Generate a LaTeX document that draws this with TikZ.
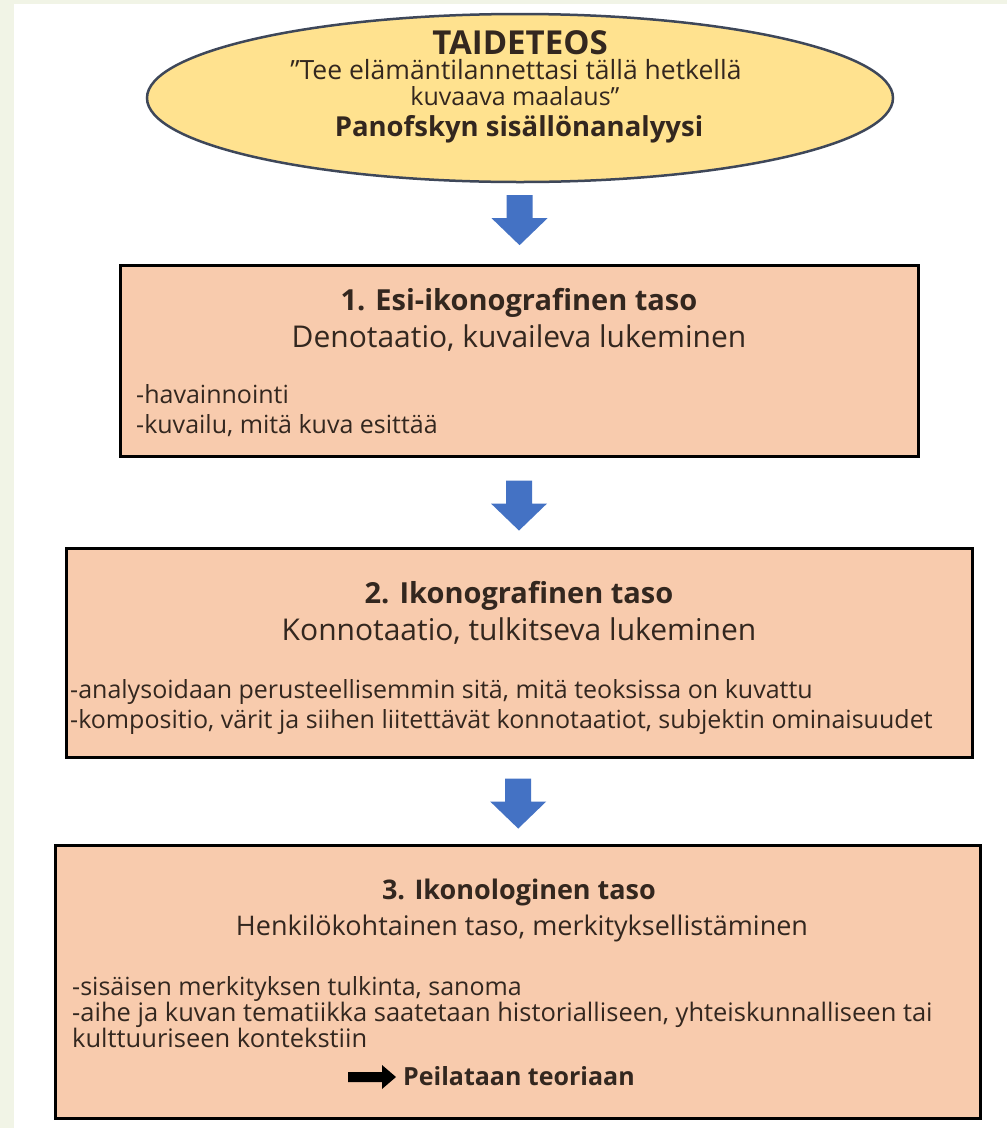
\documentclass[tikz,border=0pt]{standalone}
\usepackage{fontspec}
\setmainfont{Open Sans}
\usetikzlibrary{shapes.geometric,calc}
\definecolor{outerbg}{HTML}{F1F4E6}
\definecolor{ellfill}{HTML}{FFE28F}
\definecolor{elldraw}{HTML}{3E4759}
\definecolor{boxfill}{HTML}{F8CBAD}
\definecolor{arrowblue}{HTML}{4472C4}
\definecolor{txt}{HTML}{33271F}
\tikzset{
  levelbox/.style={draw=black, line width=3pt, fill=boxfill, inner sep=0pt},
  ttl/.style={anchor=base, inner sep=0pt, text=txt, font=\bfseries\fontsize{29}{34}\selectfont},
  sub/.style={anchor=base, inner sep=0pt, text=txt, font=\fontsize{30}{34}\selectfont},
  bodytext/.style={anchor=base west, inner sep=0pt, text=txt, font=\fontsize{25}{30}\selectfont},
  elltext/.style={anchor=base, inner sep=0pt, text=txt, font=\fontsize{26.5}{30}\selectfont},
  blockdown/.pic={\fill[arrowblue] (-13,-25) -- (13,-25) -- (13,-2) -- (28,-2) -- (0,25) -- (-28,-2) -- (-13,-2) -- cycle;}
}
\begin{document}
\begin{tikzpicture}[x=1pt,y=-1pt]
\useasboundingbox (0,0) rectangle (1007,1128);
\fill[outerbg] (0,0) rectangle (1007,1128);
\fill[white] (14,4) rectangle (1007,1128);

% top ellipse
\node[ellipse, draw=elldraw, line width=2.5pt, fill=ellfill, minimum width=746pt, minimum height=168pt, inner sep=0pt] (ell) at (520,98) {};
\node[anchor=base, inner sep=0pt, text=txt, font=\bfseries\fontsize{33}{36}\selectfont] (taide) at (520,54) {TAIDETEOS};
\node[elltext] (q1) at (516,79) {”Tee elämäntilannettasi tällä hetkellä};
\node[elltext, font=\fontsize{25}{28}\selectfont] (q2) at (515,105) {kuvaava maalaus”};
\node[anchor=base, inner sep=0pt, text=txt, font=\bfseries\fontsize{27.5}{32}\selectfont] (pan) at (519,136) {Panofskyn sisällönanalyysi};

% level boxes
\node[levelbox, minimum width=798pt, minimum height=191pt] (b1) at (519,360.5) {};
\node[levelbox, minimum width=906pt, minimum height=209pt] (b2) at (519,652.5) {};
\node[levelbox, minimum width=925pt, minimum height=273pt] (b3) at (517.5,981.5) {};

% box 1 texts
\node[ttl] (t1) at (519,310) {1. Esi-ikonografinen taso};
\node[sub] (s1) at (519,347) {Denotaatio, kuvaileva lukeminen};
\node[bodytext] (l11) at (136,403) {-havainnointi};
\node[bodytext] (l12) at (136,433) {-kuvailu, mitä kuva esittää};

% box 2 texts
\node[ttl] (t2) at (519,603) {2. Ikonografinen taso};
\node[sub] (s2) at (519,640) {Konnotaatio, tulkitseva lukeminen};
\node[bodytext] (l21) at (70,698) {-analysoidaan perusteellisemmin sitä, mitä teoksissa on kuvattu};
\node[bodytext] (l22) at (70,728) {-kompositio, värit ja siihen liitettävät konnotaatiot, subjektin ominaisuudet};

% box 3 texts
\node[ttl, font=\bfseries\fontsize{27}{30}\selectfont] (t3) at (519,899) {3. Ikonologinen taso};
\node[sub, font=\fontsize{27}{30}\selectfont] (s3) at (522,935) {Henkilökohtainen taso, merkityksellistäminen};
\node[bodytext] (l31) at (72,995) {-sisäisen merkityksen tulkinta, sanoma};
\node[bodytext, font=\fontsize{25.5}{30}\selectfont] (l32) at (72,1021) {-aihe ja kuvan tematiikka saatetaan historialliseen, yhteiskunnalliseen tai};
\node[bodytext, font=\fontsize{25.5}{30}\selectfont] (l33) at (72,1047) {kulttuuriseen kontekstiin};
\node[anchor=base west, inner sep=0pt, text=txt, font=\bfseries\fontsize{25}{30}\selectfont] (peil) at (403,1085) {Peilataan teoriaan};
\begin{scope}[shift={(peil.base west)}]
\fill[black] (-55,-13) -- (-21,-13) -- (-21,-20) -- (-7,-8) -- (-21,4) -- (-21,-3) -- (-55,-3) -- cycle;
\end{scope}

% blue block arrows between the levels
\pic at ($(ell.south)!0.46!(b1.north)$) {blockdown};
\pic at ($(b1.south)!0.54!(b2.north)$) {blockdown};
\pic at ($(b2.south)!0.53!(b3.north)$) {blockdown};
\end{tikzpicture}
\end{document}
